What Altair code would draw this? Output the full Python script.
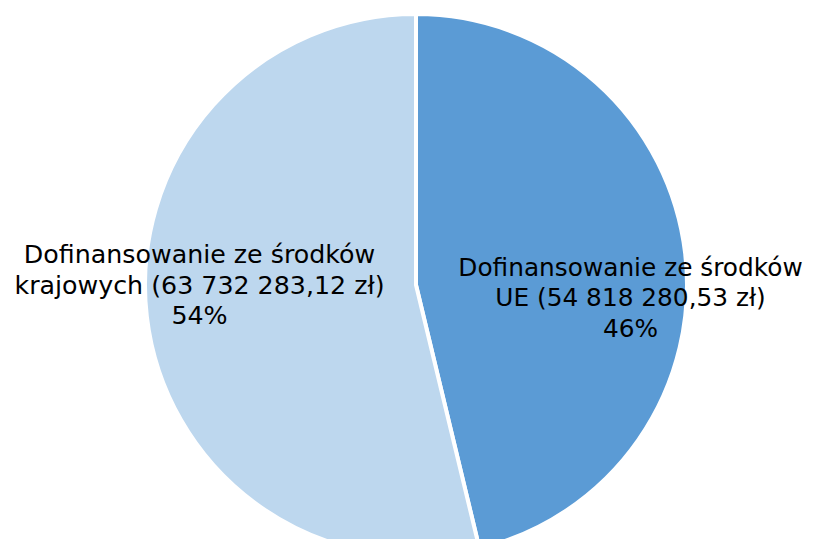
import altair as alt
import pandas as pd
import math

categories = ["Dofinansowanie ze środków UE", "Dofinansowanie ze środków krajowych"]
amounts = [54818280.53, 63732283.12]
labels = [
    "Dofinansowanie ze środków\nUE (54 818 280,53 zł)\n46%",
    "Dofinansowanie ze środków\nkrajowych (63 732 283,12 zł)\n54%",
]
colors = ["#5B9BD5", "#BDD7EE"]

df = pd.DataFrame({
    "kategoria": categories,
    "kwota": amounts,
    "etykieta": labels,
    "kolejnosc": [0, 1],
})

cx, cy = 408, 277

arcs = alt.Chart(df).mark_arc(outerRadius=271, stroke="white", strokeWidth=4).encode(
    theta=alt.Theta("kwota:Q", stack=True),
    order=alt.Order("kolejnosc:Q"),
    x=alt.value(cx),
    y=alt.value(cy),
    color=alt.Color("kategoria:N", scale=alt.Scale(domain=categories, range=colors), legend=None),
)

label_base = alt.Chart(df).transform_joinaggregate(
    suma="sum(kwota)"
).transform_window(
    narast="sum(kwota)", sort=[alt.SortField("kolejnosc")], frame=[None, 0]
).transform_calculate(
    srodek=f"(datum.narast - datum.kwota / 2) / datum.suma * {2 * math.pi}"
)

def label_layer(cat, dx, dy, size):
    return label_base.transform_filter(alt.datum.kategoria == cat).mark_text(
        radius=216,
        font="DejaVu Sans",
        fontSize=size,
        lineHeight=30.5,
        lineBreak="\n",
        align="center",
        baseline="middle",
        color="#000000",
        dx=dx,
        dy=dy,
    ).encode(
        theta=alt.Theta("srodek:Q", scale=None),
        x=alt.value(cx),
        y=alt.value(cy),
        text="etykieta:N",
    )

chart = alt.layer(
    arcs,
    label_layer(categories[0], 0, 9, 24.8),
    label_layer(categories[1], -2, -55, 25.3),
).properties(
    width=797,
    height=531,
    padding=0,
    autosize=alt.AutoSizeParams(type="none"),
).configure_view(stroke=None)

chart.save("out.html", embed_options={"renderer": "svg", "actions": False})
